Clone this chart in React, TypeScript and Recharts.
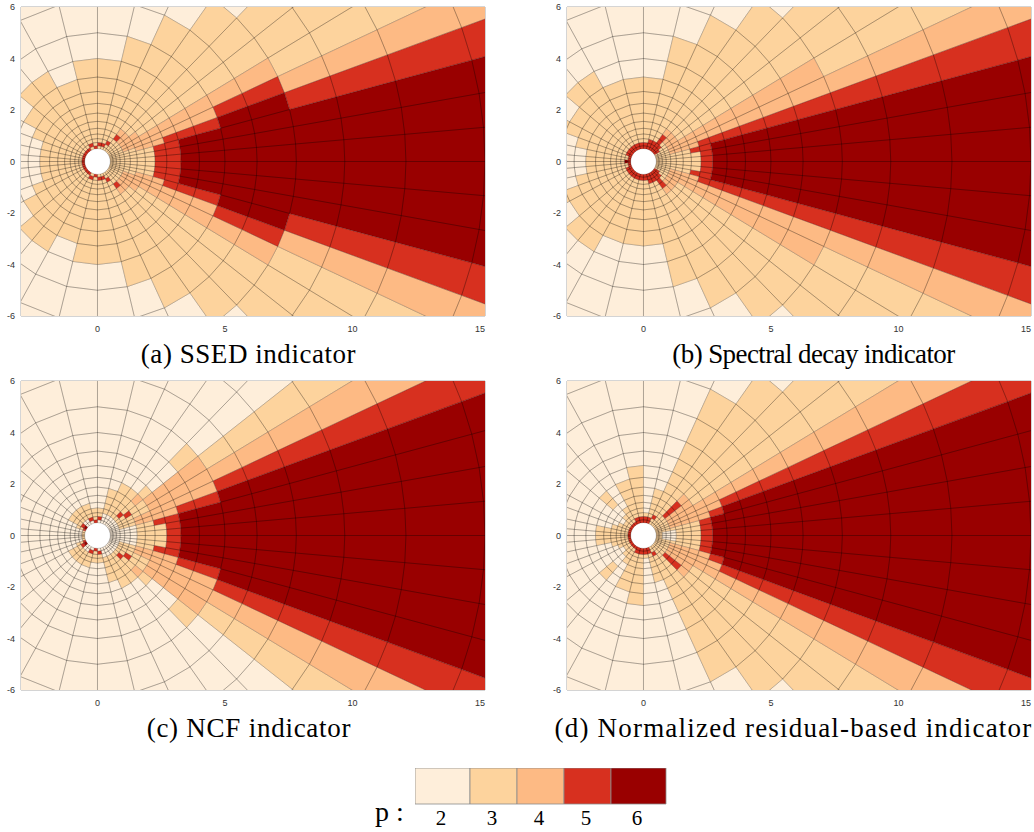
import { Bar, BarChart, ReferenceArea, Scatter, ScatterChart, XAxis, YAxis } from "recharts"

// mesh rings and rays (upper half, the mesh is mirrored about y = 0)
const ringRadii = [0.5, 0.61, 0.74, 0.89, 1.07, 1.29, 1.56, 1.88, 2.26, 2.72, 3.28, 4, 5, 6.26, 7.8, 9.7, 12.1, 15.2, 19]
const rayAngles = [0, 5, 10, 15, 20, 25, 31, 38, 45.6, 54.6, 65.2, 76.5, 90, 104, 119, 130, 140, 152, 160, 168, 175, 180]

// one string per sector, one digit per ring (inner to outer)
const levelsA = [
    "333333335566666666", "333333335566666666", "333333335566666666", "333333444555665555",
    "333344444444554444", "333344444444443333", "333344433333333333", "333344333333333333",
    "333354333333332333", "335333333333322222", "353333333333222222", "353333333332222222",
    "533333333332222222", "353333333322222222", "533333333332222222", "533333333332222222",
    "533333333322222222", "533333333222222222", "533333332222222222", "533333332222222222",
    "533333332222222222",
]
const levelsB = [
    "333333335666666666", "333333335666666666", "333333355666666666", "333344445555555555",
    "333344444444444444", "333344444444443333", "553344333333333333", "555344333333333333",
    "555554333333332333", "555333333333322222", "555333333333222222", "553333333322222222",
    "553333333322222222", "553333333322222222", "553333333332222222", "553333333332222222",
    "553333333322222222", "553333333332222222", "533333333222222222", "533333332222222222",
    "563333332222222222",
]
const levelsC = [
    "222222333566666666", "222222333566666666", "222222335566666666", "222333444455666666",
    "222333444444555555", "222333334444444444", "222335334444333333", "222353343223222222",
    "222333332222222222", "222333332222222222", "222333322222222222", "253322222222222222",
    "533322222222222222", "253332222222222222", "223332222222222222", "223332222222222222",
    "653332222222222222", "533222222222222222", "322222222222222222", "322222222222222222",
    "322222222222222222",
]
const levelsD = [
    "332223335666666666", "332223335666666666", "333333335666666666", "333344444566666666",
    "333344444455555555", "333344444444444444", "333344443333333333", "333355543333333333",
    "333333333333332333", "335333333333322222", "553333322222222222", "553222222222222222",
    "553333333222222222", "553333332222222222", "533332222222222222", "533322332222222222",
    "533222222222222222", "533322222222222222", "533332222222222222", "533333322222222222",
    "533333322222222222",
]

const pLevels = ["2", "3", "4", "5", "6"]
const pColors = ["#feeeda", "#fdd39d", "#fdba84", "#d7301f", "#990000"]
const barWidths = [55, 47, 47, 47, 55]
const xTicks = [0, 5, 10, 15]
const yTicks = [-6, -4, -2, 0, 2, 4, 6]

const panels = [
    { levels: levelsA, left: 0, top: 0, caption: "(a) SSED indicator", center: 248.5, spacing: 0.55 },
    { levels: levelsB, left: 546, top: 0, caption: "(b) Spectral decay indicator", center: 813.5, spacing: -0.6 },
    { levels: levelsC, left: 0, top: 374, caption: "(c) NCF indicator", center: 249, spacing: 0.75 },
    { levels: levelsD, left: 546, top: 374, caption: "(d) Normalized residual-based indicator", center: 793.5, spacing: 1.2 },
]

const polar = (r: number, deg: number, sign: number) => ({
    x: r * Math.cos((deg * Math.PI) / 180),
    y: sign * r * Math.sin((deg * Math.PI) / 180),
})

// every cell adds its 4 corners, the scatter line below closes them in groups of 4
const cellsForLevel = (levels: string[], level: string) => {
    const out: { x: number; y: number }[] = []
    levels.forEach((row, s) => {
        row.split("").forEach((digit, r) => {
            if (digit !== level) return
            for (const sign of [1, -1]) {
                out.push(
                    polar(ringRadii[r], rayAngles[s], sign),
                    polar(ringRadii[r + 1], rayAngles[s], sign),
                    polar(ringRadii[r + 1], rayAngles[s + 1], sign),
                    polar(ringRadii[r], rayAngles[s + 1], sign),
                )
            }
        })
    })
    return out
}

const CellPaths = (props: any, color: string) => {
    const pts = props.points || []
    let d = ""
    for (let i = 0; i + 3 < pts.length; i += 4) {
        d += `M${pts[i].x},${pts[i].y}L${pts[i + 1].x},${pts[i + 1].y}L${pts[i + 2].x},${pts[i + 2].y}L${pts[i + 3].x},${pts[i + 3].y}Z`
    }
    return <path key="cells" d={d} fill={color} stroke="#000" strokeOpacity={0.4} strokeWidth={0.45} />
}

const tickStyle = { fontFamily: "Liberation Sans", fontSize: 9, fill: "#333" }

function Panel({ levels, left, top }: { levels: string[]; left: number; top: number }) {
    return (
        <div style={{ position: "absolute", left, top }}>
            <ScatterChart width={488} height={345} margin={{ top: 7, right: 3, bottom: 9, left: 0 }}>
                <XAxis
                    dataKey="x"
                    type="number"
                    domain={[-3, 15.2]}
                    ticks={xTicks}
                    allowDataOverflow
                    axisLine={false}
                    tickLine={false}
                    tick={tickStyle}
                    height={20}
                    tickMargin={4}
                />
                <YAxis
                    dataKey="y"
                    type="number"
                    domain={[-6, 6]}
                    ticks={yTicks}
                    allowDataOverflow
                    axisLine={false}
                    tickLine={false}
                    tick={tickStyle}
                    width={21}
                    tickMargin={0}
                />
                {pLevels.map((level, i) => (
                    <Scatter
                        key={level}
                        data={cellsForLevel(levels, level)}
                        isAnimationActive={false}
                        shape={() => <g />}
                        line={(p: any) => CellPaths(p, pColors[i])}
                    />
                ))}
                <ReferenceArea x1={-3} x2={15.2} y1={-6} y2={6} fill="none" stroke="#aaa" strokeWidth={1} />
            </ScatterChart>
        </div>
    )
}

const barRow = [Object.fromEntries(pLevels.map((p, i) => [p, barWidths[i]]))]
const barTicks = barWidths.map((w, i) => barWidths.slice(0, i).reduce((a, b) => a + b, 0) + w / 2 - 1.5)

function ColorBar() {
    return (
        <div style={{ position: "absolute", left: 415, top: 768 }}>
            <BarChart
                width={252}
                height={63}
                data={barRow}
                layout="vertical"
                barCategoryGap={0}
                margin={{ top: 0, right: 1, bottom: 0, left: 0 }}
            >
                <XAxis
                    type="number"
                    domain={[0, 251]}
                    ticks={barTicks}
                    interval={0}
                    axisLine={false}
                    tickLine={false}
                    height={27}
                    tickMargin={0}
                    tickFormatter={(_v: number, i: number) => pLevels[i]}
                    tick={{ fontFamily: "Liberation Serif", fontSize: 21, fill: "#000" }}
                />
                <YAxis type="category" hide />
                {pLevels.map((p, i) => (
                    <Bar key={p} dataKey={p} stackId="p" fill={pColors[i]} stroke="#8a8a8a" strokeWidth={0.8} isAnimationActive={false} />
                ))}
            </BarChart>
        </div>
    )
}

export default function App() {
    return (
        <div style={{ position: "absolute", left: 0, top: 0, width: 1034, height: 832, background: "#fff", overflow: "hidden" }}>
            {panels.map((p) => (
                <Panel key={p.caption} levels={p.levels} left={p.left} top={p.top} />
            ))}
            {panels.map((p) => (
                <div
                    key={p.caption + "-cap"}
                    style={{
                        position: "absolute",
                        left: p.center - 300,
                        width: 600,
                        top: p.top + 338,
                        textAlign: "center",
                        fontFamily: "Liberation Serif",
                        fontSize: 27,
                        letterSpacing: p.spacing,
                        lineHeight: "32px",
                        color: "#000",
                        whiteSpace: "nowrap",
                    }}
                >
                    {p.caption}
                </div>
            ))}
            <ColorBar />
            <div style={{ position: "absolute", left: 375, top: 796, fontFamily: "Liberation Serif", fontSize: 28, lineHeight: "32px", color: "#000" }}>
                p :
            </div>
        </div>
    )
}
